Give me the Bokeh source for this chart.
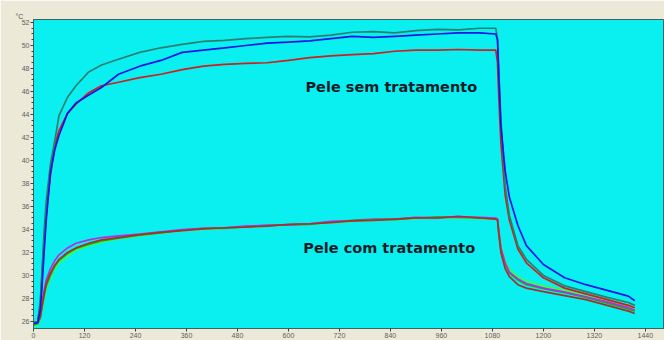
from bokeh.plotting import figure
from bokeh.models import FixedTicker, Label, Range1d
from bokeh.embed import file_html
from bokeh.resources import INLINE

# time in seconds
t_sec = [0, 10, 16, 20, 25, 30, 40, 50, 60, 80, 100, 130, 160, 200, 250, 300, 350, 400, 450, 500,
         550, 600, 650, 700, 750, 800, 850, 900, 950, 1000, 1050, 1088, 1092, 1095, 1100, 1110, 1120,
         1140, 1160, 1200, 1250, 1300, 1350, 1400, 1415]

# Pele sem tratamento (untreated skin), temperature in °C
sem_teal = [25.9, 26.0, 27.8, 30.4, 33.9, 36.5, 39.7, 41.7, 43.9, 45.5, 46.5, 47.7, 48.3, 48.8, 49.4, 49.8,
            50.1, 50.35, 50.45, 50.6, 50.7, 50.8, 50.75, 50.9, 51.15, 51.2, 51.1, 51.3, 51.4, 51.35, 51.5, 51.5,
            50.5, 47.8, 43.5, 37.8, 35.2, 32.6, 31.4, 30.0, 29.1, 28.6, 28.1, 27.65, 27.4]
sem_blue = [25.8, 25.9, 27.0, 29.0, 32.0, 34.8, 39.0, 40.9, 42.2, 44.1, 45.0, 45.7, 46.35, 47.5, 48.2, 48.7,
            49.4, 49.6, 49.8, 50.0, 50.2, 50.3, 50.4, 50.6, 50.8, 50.7, 50.8, 50.9, 51.0, 51.1, 51.1, 51.0,
            50.5, 47.5, 43.0, 39.1, 36.8, 34.35, 32.6, 30.96, 29.8, 29.2, 28.7, 28.2, 27.8]
sem_red = [25.9, 26.0, 27.5, 30.0, 33.0, 35.5, 38.7, 41.3, 42.6, 44.1, 44.9, 45.9, 46.5, 46.8, 47.2, 47.5,
           47.9, 48.2, 48.35, 48.45, 48.5, 48.7, 48.95, 49.1, 49.2, 49.3, 49.5, 49.6, 49.6, 49.65, 49.6, 49.6,
           48.5, 45.5, 41.5, 37.0, 34.8, 32.3, 31.1, 29.8, 28.9, 28.4, 27.9, 27.4, 27.2]

# Pele com tratamento (treated skin)
com_purple = [25.8, 25.9, 26.5, 27.6, 28.7, 29.6, 30.6, 31.3, 31.8, 32.4, 32.8, 33.1, 33.3, 33.45, 33.6, 33.8,
              34.0, 34.1, 34.15, 34.3, 34.35, 34.4, 34.5, 34.7, 34.75, 34.85, 34.9, 35.05, 35.0, 35.1, 35.05, 35.0,
              34.9, 33.9, 32.4, 31.1, 30.3, 29.7, 29.3, 28.9, 28.55, 28.15, 27.7, 27.2, 27.0]
com_green = [25.7, 25.8, 26.3, 27.2, 28.2, 29.1, 30.0, 30.8, 31.3, 31.9, 32.35, 32.7, 33.0, 33.25, 33.5, 33.7,
             33.95, 34.1, 34.1, 34.25, 34.35, 34.4, 34.45, 34.65, 34.8, 34.9, 34.85, 35.0, 35.1, 35.05, 35.0, 34.95,
             34.9, 33.8, 32.3, 31.0, 30.2, 29.6, 29.2, 28.85, 28.5, 28.1, 27.6, 27.1, 26.9]
com_brown = [25.9, 26.0, 26.4, 27.3, 28.4, 29.3, 30.2, 30.9, 31.4, 32.0, 32.4, 32.8, 33.1, 33.3, 33.55, 33.75,
             33.9, 34.05, 34.15, 34.2, 34.3, 34.45, 34.5, 34.6, 34.75, 34.8, 34.9, 35.0, 35.0, 35.15, 35.0, 34.9,
             34.8, 33.6, 32.0, 30.6, 29.9, 29.2, 28.9, 28.6, 28.25, 27.9, 27.4, 26.9, 26.7]
com_lime = [25.6, 25.7, 26.2, 27.0, 28.0, 28.9, 29.8, 30.6, 31.1, 31.7, 32.2, 32.6, 32.9, 33.2, 33.45, 33.7,
            33.9, 34.0, 34.1, 34.2, 34.3, 34.4, 34.45, 34.6, 34.7, 34.8, 34.85, 34.95, 35.0, 35.0, 34.95, 34.9,
            34.9, 34.0, 32.6, 31.3, 30.5, 29.9, 29.5, 29.1, 28.7, 28.3, 27.8, 27.3, 27.1]

y_ticks = [26, 28, 30, 32, 34, 36, 38, 40, 42, 44, 46, 48, 50, 52]
x_ticks = [0, 120, 240, 360, 480, 600, 720, 840, 960, 1080, 1200, 1320, 1440]

p = figure(width=664, height=340, output_backend="svg", toolbar_location=None,
           x_range=Range1d(0, 1485), y_range=Range1d(25.39, 52.26),
           min_border_left=33, min_border_right=0, min_border_top=19, min_border_bottom=0)
p.border_fill_color = "#ece9d8"
p.background_fill_color = "#0af0f0"
p.outline_line_color = "#3a6464"
p.outline_line_width = 1
p.xgrid.visible = False
p.ygrid.visible = False

p.title.text = "°C"
p.title.text_font = "Liberation Sans"
p.title.text_font_size = "7px"
p.title.text_font_style = "normal"
p.title.text_color = "#505050"
p.title.offset = -18
p.title.standoff = 0

series = [
    (com_lime, "#3cff3c"),
    (com_green, "#1faa1f"),
    (com_purple, "#b22ee0"),
    (com_brown, "#a0342a"),
    (sem_red, "#d01e1e"),
    (sem_teal, "#2a7f72"),
    (sem_blue, "#1515e6"),
]
for vals, col in series:
    p.line(t_sec, vals, line_color=col, line_width=1.7)

for ax in (p.xaxis[0], p.yaxis[0]):
    ax.major_label_text_font = "Liberation Sans"
    ax.major_label_text_font_size = "7px"
    ax.major_label_text_color = "#606060"
    ax.axis_line_color = "#3a6464"
    ax.major_tick_line_color = "#404040"
    ax.minor_tick_line_color = "#404040"
    ax.major_tick_in = 0
    ax.major_tick_out = 3
    ax.minor_tick_in = 0
    ax.minor_tick_out = 2
    ax.major_label_standoff = 1

p.yaxis.ticker = FixedTicker(ticks=y_ticks, minor_ticks=[v + 0.5 * k for v in y_ticks for k in (1, 2, 3)])
p.xaxis.ticker = FixedTicker(ticks=x_ticks)

p.add_layout(Label(x=640, y=46.35, text="Pele sem tratamento", text_font="DejaVu Sans",
                   text_font_style="bold", text_font_size="14.5px", text_color="#141c28",
                   text_baseline="middle"))
p.add_layout(Label(x=635, y=32.43, text="Pele com tratamento", text_font="DejaVu Sans",
                   text_font_style="bold", text_font_size="14.5px", text_color="#141c28",
                   text_baseline="middle"))

open("out.html", "w").write(file_html(p, INLINE))
